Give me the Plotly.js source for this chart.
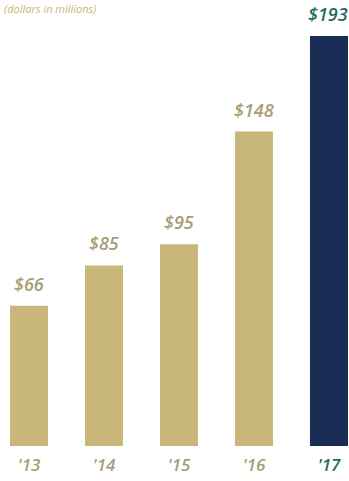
<!DOCTYPE html>
<html><head><meta charset="utf-8">
<script src="https://cdn.plot.ly/plotly-3.0.1.min.js"></script>
<style>html,body{margin:0;padding:0;background:#fff;}#chart{width:349px;height:481px;}</style>
</head><body><div id="chart"></div>
<script>
const categories = ["'13", "'14", "'15", "'16", "'17"];
const values = [66, 85, 95, 148, 193];
const valueLabels = ["$66", "$85", "$95", "$148", "$193"];
const unitNote = "(dollars in millions)";

const gold = "#c8b67a", navy = "#1a2d55", goldText = "#a69d74", teal = "#1f6b61";
const barColors = values.map((v, i) => i === values.length - 1 ? navy : gold);
const textColors = values.map((v, i) => i === values.length - 1 ? teal : goldText);
const fontFam = "Open Sans, sans-serif";

const trace = {
  type: "bar", x: categories, y: values, width: 0.507,
  marker: {color: barColors}, hoverinfo: "none"
};

const annotations = values.map((v, i) => ({
  x: categories[i], y: v, xref: "x", yref: "y", text: valueLabels[i],
  showarrow: false, yanchor: "bottom", yshift: 8,
  xshift: i === values.length - 1 ? -1 : 0,
  font: {family: fontFam, size: 18, color: textColors[i], style: "italic", weight: 600}
}));
annotations.push({
  x: 0, y: 1, xref: "paper", yref: "paper", xanchor: "left", yanchor: "top",
  xshift: 2, yshift: 1, text: unitNote, showarrow: false,
  font: {family: fontFam, size: 11, color: gold, style: "italic"}
});

const layout = {
  width: 349, height: 481, margin: {l: 0, r: 0, t: 0, b: 35},
  paper_bgcolor: "#fff", plot_bgcolor: "#fff", showlegend: false,
  xaxis: {type: "category", range: [-0.3867, 4.2667], showgrid: false, zeroline: false,
    showline: false, ticks: "", ticklabelstandoff: 7,
    tickvals: categories,
    ticktext: categories.map((c, i) => `<span style="color:${textColors[i]}">${c}</span>`),
    tickfont: {family: fontFam, size: 17, color: goldText, style: "italic", weight: 600}},
  yaxis: {range: [0, 209.9], visible: false, showgrid: false, zeroline: false},
  annotations: annotations
};
Plotly.newPlot("chart", [trace], layout, {displayModeBar: false, staticPlot: true});
</script></body></html>
